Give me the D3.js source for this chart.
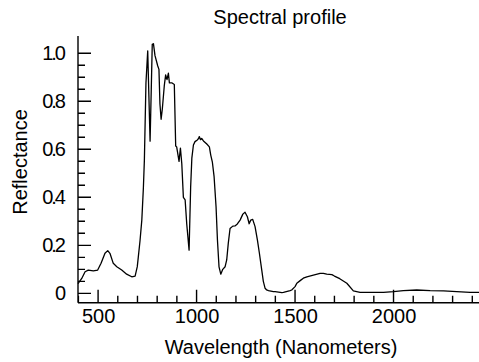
<!DOCTYPE html>
<html>
<head>
<meta charset="utf-8">
<script src="https://cdn.jsdelivr.net/npm/d3@7"></script>
<style>
  body { margin: 0; background: #fff; }
  svg { display: block; font-family: "Liberation Sans", Arial, Helvetica, sans-serif; }
</style>
</head>
<body>
<svg></svg>
<script>
// Data
let wavelengths = [
  398, 417, 434, 450, 476, 498, 515, 535, 549, 561, 577, 595, 620, 645, 671, 688,
  699, 704, 713, 722, 730, 735, 743, 752, 758, 764, 770, 775, 781, 789, 803, 809,
  814, 820, 826, 836, 843, 850, 857, 862, 874, 887, 894, 899, 911, 918, 925, 933,
  942, 950, 962, 970, 976, 984, 992, 1004, 1010, 1014, 1020, 1026, 1035, 1052, 1065, 1072,
  1080, 1089, 1099, 1106, 1114, 1123, 1133, 1145, 1153, 1161, 1170, 1184, 1195, 1207, 1221, 1235,
  1246, 1258, 1267, 1275, 1285, 1297, 1309, 1319, 1331, 1339, 1348, 1356, 1365, 1390, 1399, 1433,
  1441, 1475, 1483, 1500, 1509, 1526, 1542, 1560, 1593, 1627, 1644, 1661, 1687, 1700, 1727, 1763,
  1796, 1830, 1949, 2000, 2050, 2118, 2186, 2254, 2321, 2389, 2435
];
let reflectance = [
  0.040, 0.062, 0.090, 0.097, 0.094, 0.097, 0.125, 0.167, 0.178, 0.165, 0.125, 0.111, 0.097, 0.080, 0.069, 0.072,
  0.111, 0.150, 0.220, 0.305, 0.440, 0.555, 0.875, 1.010, 0.820, 0.634, 0.850, 1.037, 1.040, 0.990, 0.947, 0.933,
  0.790, 0.725, 0.767, 0.864, 0.910, 0.890, 0.917, 0.877, 0.877, 0.870, 0.614, 0.610, 0.550, 0.605, 0.540, 0.400,
  0.389, 0.290, 0.180, 0.444, 0.563, 0.618, 0.632, 0.639, 0.645, 0.653, 0.640, 0.645, 0.635, 0.622, 0.610, 0.576,
  0.548, 0.486, 0.360, 0.222, 0.110, 0.080, 0.100, 0.111, 0.139, 0.208, 0.270, 0.280, 0.281, 0.289, 0.305, 0.330,
  0.338, 0.319, 0.290, 0.305, 0.308, 0.278, 0.222, 0.167, 0.097, 0.050, 0.021, 0.014, 0.011, 0.007, 0.007, 0.003,
  0.004, 0.011, 0.014, 0.028, 0.042, 0.053, 0.063, 0.069, 0.076, 0.083, 0.083, 0.080, 0.078, 0.072, 0.061, 0.042,
  0.010, 0.004, 0.004, 0.007, 0.011, 0.014, 0.011, 0.010, 0.007, 0.004, 0.004
];

let xMajorTicks = [500, 1000, 1500, 2000];
let xMinorTicks = d3.range(400, 2500, 100);
let yMajorTicks = [0, 0.2, 0.4, 0.6, 0.8, 1.0];
let yMinorTicks = d3.range(0, 21).map((i) => i * 0.05);

let values = wavelengths.map((w, i) => [w, reflectance[i]]);

let xScale;
let yScale;

const width = 479;
const height = 362;
const padLeft = 78;
const padRight = 479;
const padTop = 36;
const padBottom = 302.7;

let svg = d3.select("svg");

// Funciones

function drawSvg() {
  svg.attr("width", width).attr("height", height);

  svg.append("text")
    .attr("id", "title")
    .text("Spectral profile")
    .attr("x", 280)
    .attr("y", 24)
    .attr("text-anchor", "middle")
    .attr("font-size", 20);

  svg.append("text")
    .text("Wavelength (Nanometers)")
    .attr("x", 281)
    .attr("y", 354)
    .attr("text-anchor", "middle")
    .attr("font-size", 20);

  svg.append("text")
    .text("Reflectance")
    .attr("transform", "translate(27,162) rotate(-90)")
    .attr("text-anchor", "middle")
    .attr("font-size", 20);
}

function escalas() {
  xScale = d3.scaleLinear().domain([398, 2434]).range([padLeft, padRight]);
  yScale = d3.scaleLinear().domain([-0.039, 1.072]).range([padBottom, padTop]);
}

function generateAxes() {
  let xAxis = d3.axisBottom(xScale)
    .tickValues(xMajorTicks)
    .tickSize(0)
    .tickPadding(6)
    .tickFormat(d3.format("d"));
  svg.append("g")
    .attr("id", "x-axis")
    .attr("transform", "translate(0," + padBottom + ")")
    .call(xAxis);

  let yAxis = d3.axisLeft(yScale)
    .tickValues(yMajorTicks)
    .tickSize(0)
    .tickPadding(14)
    .tickFormat((d) => (d === 0 ? "0" : d3.format(".1f")(d)));
  svg.append("g")
    .attr("id", "y-axis")
    .attr("transform", "translate(" + padLeft + ",0)")
    .call(yAxis);

  svg.selectAll(".domain").remove();
  svg.selectAll(".tick text")
    .attr("fill", "#000")
    .attr("font-size", 20)
    .attr("font-family", "Liberation Sans, Arial, sans-serif");
  svg.selectAll("#x-axis .tick text").attr("dy", "0.71em");
  svg.selectAll("#y-axis .tick text").attr("letter-spacing", -2);

  // tick marks (inward) and axis lines as one path
  let xTickPath = xMinorTicks.map((d) =>
    "M" + xScale(d) + "," + padBottom + "V" + (padBottom - (xMajorTicks.includes(d) ? 13 : 7))).join("");
  let yTickPath = yMinorTicks.map((d, i) =>
    "M" + padLeft + "," + yScale(d) + "H" + (padLeft + (i % 4 === 0 ? 13 : 7))).join("");

  svg.append("path")
    .attr("d", xTickPath + yTickPath +
      "M" + padLeft + "," + padBottom + "H" + padRight +
      "M" + padLeft + "," + padBottom + "V" + padTop)
    .attr("fill", "none")
    .attr("stroke", "#000")
    .attr("stroke-width", 1.4);
}

function drawLine() {
  let line = d3.line()
    .x((d) => xScale(d[0]))
    .y((d) => yScale(d[1]));

  svg.append("path")
    .datum(values)
    .attr("d", line)
    .attr("fill", "none")
    .attr("stroke", "#000")
    .attr("stroke-width", 1.3)
    .attr("stroke-linejoin", "round");
}

drawSvg();
escalas();
generateAxes();
drawLine();
</script>
</body>
</html>
